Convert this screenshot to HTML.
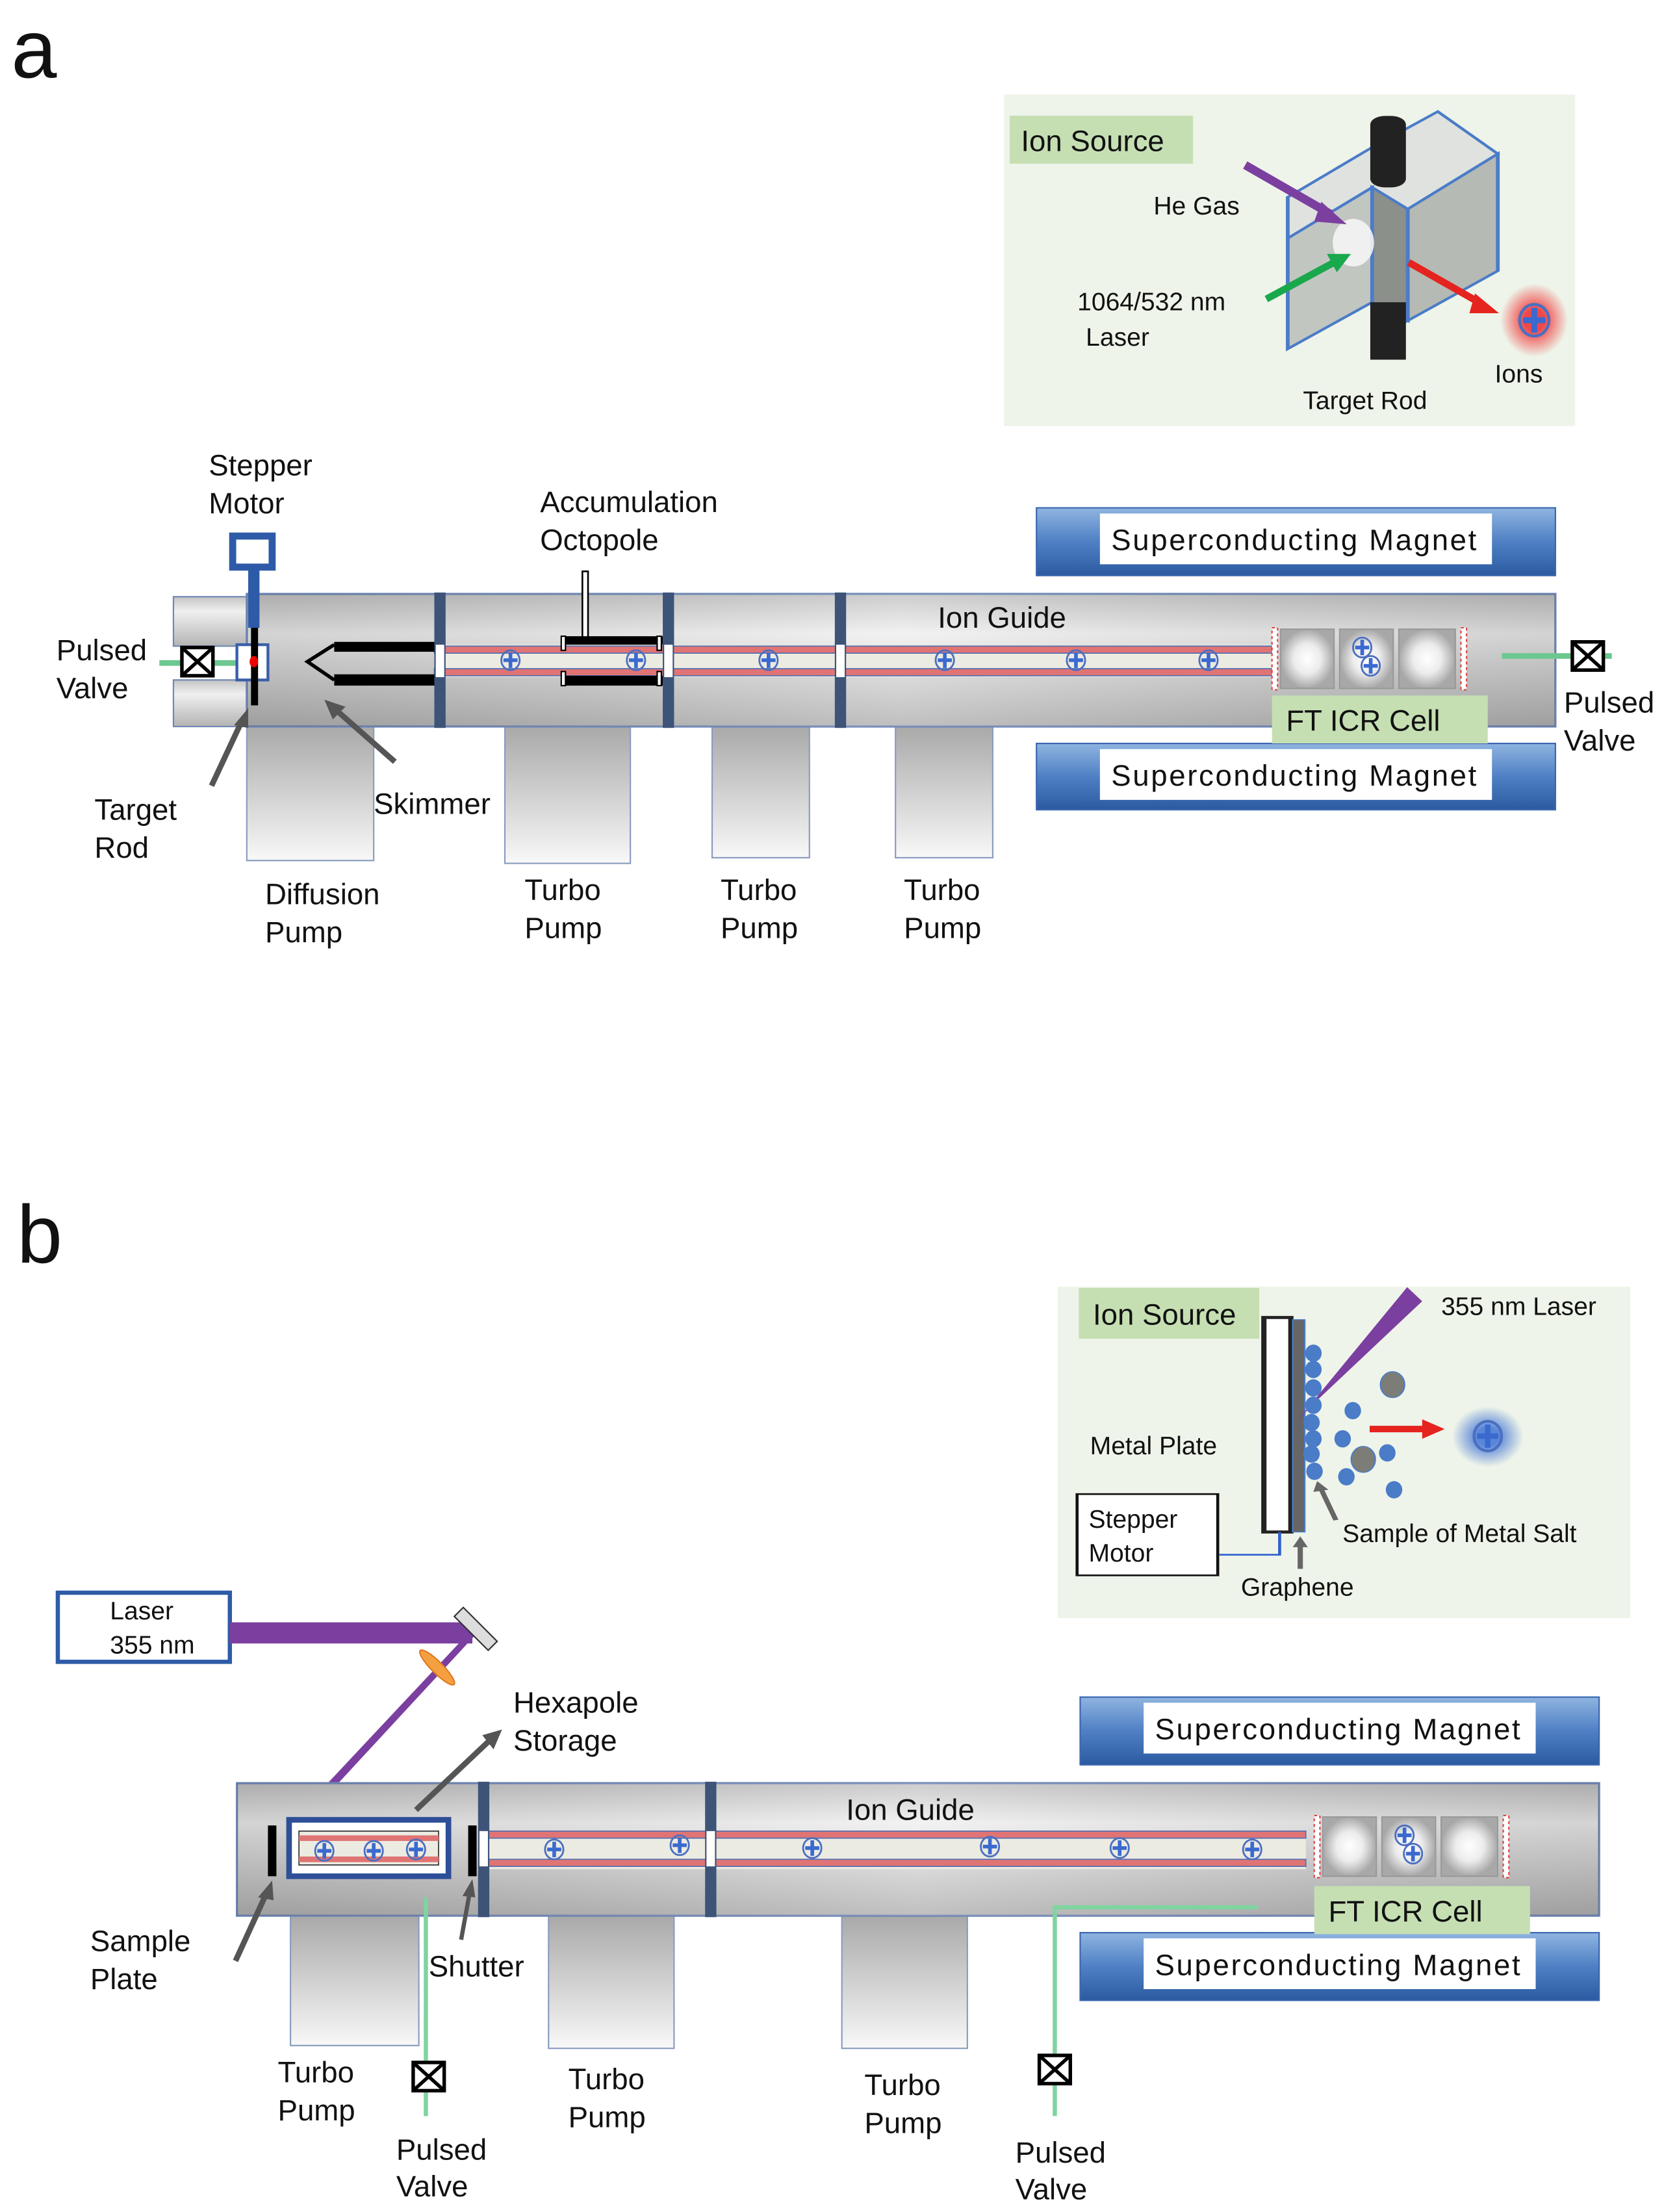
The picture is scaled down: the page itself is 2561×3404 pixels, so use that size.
<!DOCTYPE html>
<html><head><meta charset="utf-8"><style>
html,body{margin:0;padding:0;background:#fff}
svg{display:block}
text{font-family:"Liberation Sans",sans-serif;fill:#111}
</style></head><body>
<svg width="2561" height="3404" viewBox="0 0 1180 1568" preserveAspectRatio="none" xmlns="http://www.w3.org/2000/svg">
<defs>
<linearGradient id="ch" x1="0" y1="0" x2="0" y2="1"><stop offset="0" stop-color="#c4c4c4"/><stop offset="0.3" stop-color="#f0f0f0"/><stop offset="1" stop-color="#b4b4b4"/></linearGradient>
<linearGradient id="chh" x1="0" y1="0" x2="1" y2="0"><stop offset="0" stop-color="#000" stop-opacity="0.12"/><stop offset="0.5" stop-color="#fff" stop-opacity="0.15"/><stop offset="1" stop-color="#000" stop-opacity="0.12"/></linearGradient>
<linearGradient id="pm" x1="0" y1="0" x2="0" y2="1"><stop offset="0" stop-color="#a9a9a9"/><stop offset="1" stop-color="#f8f8f8"/></linearGradient>
<linearGradient id="mg" x1="0" y1="0" x2="0" y2="1"><stop offset="0" stop-color="#8fb4e0"/><stop offset="0.5" stop-color="#4f80c4"/><stop offset="1" stop-color="#2b5aa0"/></linearGradient>
<radialGradient id="cell"><stop offset="0" stop-color="#fff"/><stop offset="0.5" stop-color="#ececec"/><stop offset="1" stop-color="#a8a8a8"/></radialGradient>
<radialGradient id="rglow"><stop offset="0.3" stop-color="#f04848"/><stop offset="1" stop-color="#f04848" stop-opacity="0"/></radialGradient>
<radialGradient id="bglow"><stop offset="0.3" stop-color="#5a86d8"/><stop offset="1" stop-color="#5a86d8" stop-opacity="0"/></radialGradient>
<g id="ion"><ellipse cx="0" cy="0" rx="6.5" ry="7" fill="none" stroke="#4b6fc0" stroke-width="1.3"/><path d="M-5 0H5M0-5.5V5.5" stroke="#3a6ad0" stroke-width="2.6"/></g>
<g id="valve"><rect x="0" y="0" width="22" height="20" fill="#fff" stroke="#000" stroke-width="2.5"/><path d="M1 1L21 19M21 1L1 19" stroke="#000" stroke-width="2.5"/></g>
</defs>

<!-- ================= PANEL A ================= -->
<text x="8" y="55" font-size="58">a</text>

<rect x="712" y="67" width="405" height="235" fill="#eef4e9"/>
<rect x="716" y="82" width="130" height="34" fill="#c5dfb3"/>
<text x="724" y="107" font-size="21">Ion Source</text>
<g transform="translate(709.7,64.5) scale(0.266,0.1536)">
<polygon points="765,490 985,265 1165,95 1325,290 1085,545 990,445 765,680" fill="#dfe2de" stroke="#4a7cc8" stroke-width="10"/>
<polygon points="765,680 990,445 990,975 765,1190" fill="#c2c6c1" stroke="#4a7cc8" stroke-width="10"/>
<polygon points="990,445 1085,545 1085,1060 990,975" fill="#8c908b" stroke="#4a7cc8" stroke-width="10"/>
<polygon points="1085,545 1325,290 1325,830 1085,1060" fill="#b6bab4" stroke="#4a7cc8" stroke-width="10"/>
<rect x="985" y="115" width="95" height="330" rx="40" fill="#222"/>
<rect x="985" y="975" width="95" height="265" fill="#222"/>
<ellipse cx="940" cy="700" rx="55" ry="110" fill="#f4f4f4" opacity="0.9"/>
</g>
<path d="M883 117 L944 152" stroke="#7b3fa0" stroke-width="6"/>
<polygon points="955,159 937,143 932,157" fill="#7b3fa0"/>
<path d="M898 212 L946 186" stroke="#1aa84c" stroke-width="5"/>
<polygon points="958,180 941,180 948,193" fill="#1aa84c"/>
<path d="M999 186 L1050 215" stroke="#e5231f" stroke-width="5"/>
<polygon points="1063,222 1046,208 1042,222" fill="#e5231f"/>
<ellipse cx="1088" cy="227" rx="24" ry="26" fill="url(#rglow)"/>
<use href="#ion" x="1088" y="227" transform="translate(1088,227) scale(1.6) translate(-1088,-227)"/>
<text x="818" y="152" font-size="18">He Gas</text>
<text x="764" y="220" font-size="18">1064/532 nm</text>
<text x="770" y="245" font-size="18">Laser</text>
<text x="1060" y="271" font-size="18">Ions</text>
<text x="924" y="290" font-size="18">Target Rod</text>

<rect x="735" y="360" width="368" height="48" fill="url(#mg)" stroke="#3a66b0"/>
<rect x="780" y="364" width="278" height="36" fill="#fff"/>
<text x="788" y="390" font-size="21" textLength="259">Superconducting Magnet</text>
<rect x="735" y="527" width="368" height="47" fill="url(#mg)" stroke="#3a66b0"/>
<rect x="780" y="531" width="278" height="36" fill="#fff"/>
<text x="788" y="557" font-size="21" textLength="259">Superconducting Magnet</text>

<rect x="175" y="515" width="90" height="95" fill="url(#pm)" stroke="#8a9cc0"/>
<rect x="358" y="515" width="89" height="97" fill="url(#pm)" stroke="#8a9cc0"/>
<rect x="505" y="515" width="69" height="93" fill="url(#pm)" stroke="#8a9cc0"/>
<rect x="635" y="515" width="69" height="93" fill="url(#pm)" stroke="#8a9cc0"/>

<rect x="123" y="423" width="54" height="35" fill="url(#ch)" stroke="#6f87b5"/>
<rect x="123" y="482" width="54" height="33" fill="url(#ch)" stroke="#6f87b5"/>
<rect x="175" y="421" width="928" height="94" fill="url(#ch)" stroke="#6f87b5" stroke-width="1.5"/>
<rect x="175" y="421" width="928" height="94" fill="url(#chh)"/>
<rect x="308" y="457" width="594" height="23" fill="#ecebe2"/>
<rect x="308" y="458" width="594" height="5" fill="#e07474" stroke="#5570b0" stroke-width="0.8"/>
<rect x="308" y="474" width="594" height="5" fill="#e07474" stroke="#5570b0" stroke-width="0.8"/>
<rect x="308" y="420" width="8" height="96" fill="#3d5478"/>
<rect x="470" y="420" width="8" height="96" fill="#3d5478"/>
<rect x="592" y="420" width="8" height="96" fill="#3d5478"/>
<rect x="309" y="457" width="6" height="23" fill="#fff"/>
<rect x="471" y="457" width="6" height="23" fill="#fff"/>
<rect x="593" y="457" width="6" height="23" fill="#fff"/>
<rect x="237" y="455" width="71" height="7" fill="#000"/>
<rect x="237" y="478" width="71" height="8" fill="#000"/>
<path d="M237 457 L218 469 L237 482" fill="none" stroke="#000" stroke-width="2.5"/>
<rect x="413" y="405" width="4" height="48" fill="#fff" stroke="#000" stroke-width="1.2"/>
<rect x="398" y="451" width="72" height="6" fill="#000"/>
<rect x="398" y="479" width="72" height="7" fill="#000"/>
<rect x="398" y="451" width="3" height="10" fill="#fff" stroke="#000"/>
<rect x="466" y="451" width="3" height="10" fill="#fff" stroke="#000"/>
<rect x="398" y="476" width="3" height="10" fill="#fff" stroke="#000"/>
<rect x="466" y="476" width="3" height="10" fill="#fff" stroke="#000"/>
<use href="#ion" x="362" y="468"/><use href="#ion" x="451" y="468"/><use href="#ion" x="545" y="468"/>
<use href="#ion" x="670" y="468"/><use href="#ion" x="763" y="468"/><use href="#ion" x="857" y="468"/>
<rect x="902" y="445" width="4" height="44" fill="#fff" stroke="#e04040" stroke-dasharray="2 2"/>
<rect x="1036" y="445" width="4" height="44" fill="#fff" stroke="#e04040" stroke-dasharray="2 2"/>
<rect x="908" y="446" width="38" height="42" fill="url(#cell)" stroke="#999"/>
<rect x="950" y="446" width="38" height="42" fill="url(#cell)" stroke="#999"/>
<rect x="992" y="446" width="40" height="42" fill="url(#cell)" stroke="#999"/>
<use href="#ion" x="966" y="459"/><use href="#ion" x="972" y="472"/>
<rect x="902" y="493" width="153" height="34" fill="#c5dfb3"/>
<text x="912" y="518" font-size="21">FT ICR Cell</text>
<path d="M113 470 H170" stroke="#6cc890" stroke-width="4"/>
<use href="#valve" x="129" y="459"/>
<rect x="168" y="457" width="22" height="25" fill="#fff" stroke="#3a5fa8" stroke-width="2"/>
<rect x="165" y="380" width="28" height="22" fill="#fff" stroke="#2e5ba8" stroke-width="5"/>
<rect x="176" y="402" width="8" height="43" fill="#2e5ba8"/>
<rect x="178" y="445" width="5" height="55" fill="#000"/>
<ellipse cx="180" cy="469" rx="3" ry="4" fill="#e00"/>
<path d="M1065 465 H1143" stroke="#6cc890" stroke-width="4"/>
<use href="#valve" x="1115" y="455"/>
<path d="M150 557 L172 510" stroke="#555" stroke-width="4"/>
<polygon points="176,502 166,514 176,516" fill="#555"/>
<path d="M280 540 L238 503" stroke="#555" stroke-width="4"/>
<polygon points="230,496 236,510 245,501" fill="#555"/>
<text x="148" y="337" font-size="21">Stepper</text>
<text x="148" y="364" font-size="21">Motor</text>
<text x="383" y="363" font-size="21">Accumulation</text>
<text x="383" y="390" font-size="21">Octopole</text>
<text x="665" y="445" font-size="21">Ion Guide</text>
<text x="40" y="468" font-size="21">Pulsed</text>
<text x="40" y="495" font-size="21">Valve</text>
<text x="1109" y="505" font-size="21">Pulsed</text>
<text x="1109" y="532" font-size="21">Valve</text>
<text x="67" y="581" font-size="21">Target</text>
<text x="67" y="608" font-size="21">Rod</text>
<text x="265" y="577" font-size="21">Skimmer</text>
<text x="188" y="641" font-size="21">Diffusion</text>
<text x="188" y="668" font-size="21">Pump</text>
<text x="372" y="638" font-size="21">Turbo</text>
<text x="372" y="665" font-size="21">Pump</text>
<text x="511" y="638" font-size="21">Turbo</text>
<text x="511" y="665" font-size="21">Pump</text>
<text x="641" y="638" font-size="21">Turbo</text>
<text x="641" y="665" font-size="21">Pump</text>

<!-- ================= PANEL B ================= -->
<text x="12" y="895" font-size="58">b</text>

<rect x="750" y="912" width="406" height="235" fill="#eef4e9"/>
<rect x="765" y="913" width="128" height="36" fill="#c5dfb3"/>
<text x="775" y="939" font-size="21">Ion Source</text>
<g transform="translate(746.5,907.8) scale(0.266,0.1536)">
<rect x="563" y="170" width="72" height="990" fill="#fff" stroke="#222" stroke-width="14"/>
<rect x="640" y="180" width="32" height="980" fill="#666" stroke="#4a7cc8" stroke-width="4"/>
<polygon points="945,30 985,95 700,560 650,650" fill="#7b3fa0"/>
<g fill="#4a7cc8">
<ellipse cx="695" cy="335" rx="22" ry="40"/><ellipse cx="695" cy="410" rx="22" ry="40"/><ellipse cx="695" cy="495" rx="22" ry="40"/>
<ellipse cx="695" cy="575" rx="22" ry="40"/><ellipse cx="690" cy="655" rx="22" ry="40"/><ellipse cx="695" cy="730" rx="22" ry="40"/>
<ellipse cx="690" cy="800" rx="22" ry="40"/><ellipse cx="698" cy="880" rx="22" ry="40"/>
<ellipse cx="800" cy="600" rx="22" ry="40"/><ellipse cx="773" cy="730" rx="22" ry="40"/><ellipse cx="892" cy="795" rx="22" ry="40"/>
<ellipse cx="783" cy="905" rx="22" ry="40"/><ellipse cx="910" cy="965" rx="22" ry="40"/>
</g>
<ellipse cx="906" cy="480" rx="32" ry="60" fill="#7d7d78" stroke="#4a7cc8" stroke-width="4"/>
<ellipse cx="828" cy="825" rx="32" ry="60" fill="#7d7d78" stroke="#4a7cc8" stroke-width="4"/>
<path d="M845 685 H990" stroke="#e5231f" stroke-width="30"/>
<polygon points="985,640 1045,685 985,730" fill="#e5231f"/>
<ellipse cx="1160" cy="720" rx="95" ry="140" fill="url(#bglow)"/>
<rect x="65" y="985" width="375" height="375" fill="#fff" stroke="#111" stroke-width="8"/>
<path d="M443 1265 H605 V1160" fill="none" stroke="#2e5fd0" stroke-width="8"/>
<path d="M660 1330 V1220" stroke="#666" stroke-width="14"/>
<polygon points="640,1230 660,1180 680,1230" fill="#666"/>
<path d="M755 1105 L715 960" stroke="#666" stroke-width="14"/>
<polygon points="695,975 705,925 735,965" fill="#666"/>
</g>
<use href="#ion" x="1055" y="1018" transform="translate(1055,1018) scale(1.5) translate(-1055,-1018)"/>
<text x="1022" y="932" font-size="18">355 nm Laser</text>
<text x="773" y="1031" font-size="18">Metal Plate</text>
<text x="772" y="1083" font-size="18">Stepper</text>
<text x="772" y="1107" font-size="18">Motor</text>
<text x="952" y="1093" font-size="18">Sample of Metal Salt</text>
<text x="880" y="1131" font-size="18">Graphene</text>

<rect x="41" y="1129" width="122" height="49" fill="#fff" stroke="#2e5ba8" stroke-width="3"/>
<text x="78" y="1148" font-size="18">Laser</text>
<text x="78" y="1172" font-size="18">355 nm</text>
<rect x="163" y="1150" width="172" height="15" fill="#7b3fa0"/>
<polygon points="330,1160 338,1158 214,1292 208,1290" fill="#7b3fa0"/>
<rect x="320" y="1150" width="34" height="9" fill="#ddd" stroke="#333" transform="rotate(45 337 1155)"/>
<ellipse cx="310" cy="1182" rx="4" ry="17" fill="#f5a040" stroke="#e07a20" transform="rotate(-45 310 1182)"/>

<rect x="766" y="1203" width="368" height="48" fill="url(#mg)" stroke="#3a66b0"/>
<rect x="811" y="1207" width="278" height="36" fill="#fff"/>
<text x="819" y="1233" font-size="21" textLength="259">Superconducting Magnet</text>
<rect x="766" y="1370" width="368" height="48" fill="url(#mg)" stroke="#3a66b0"/>
<rect x="811" y="1374" width="278" height="36" fill="#fff"/>
<text x="819" y="1400" font-size="21" textLength="259">Superconducting Magnet</text>

<rect x="206" y="1358" width="91" height="92" fill="url(#pm)" stroke="#8a9cc0"/>
<rect x="389" y="1358" width="89" height="94" fill="url(#pm)" stroke="#8a9cc0"/>
<rect x="597" y="1358" width="89" height="94" fill="url(#pm)" stroke="#8a9cc0"/>

<rect x="168" y="1264" width="966" height="94" fill="url(#ch)" stroke="#6f87b5" stroke-width="1.5"/>
<rect x="168" y="1264" width="966" height="94" fill="url(#chh)"/>
<rect x="341" y="1298" width="585" height="27" fill="#ecebe2"/>
<rect x="341" y="1298" width="585" height="5" fill="#e07474" stroke="#5570b0" stroke-width="0.8"/>
<rect x="341" y="1318" width="585" height="5" fill="#e07474" stroke="#5570b0" stroke-width="0.8"/>
<rect x="339" y="1263" width="8" height="96" fill="#3d5478"/>
<rect x="500" y="1263" width="8" height="96" fill="#3d5478"/>
<rect x="340" y="1298" width="6" height="25" fill="#fff"/>
<rect x="501" y="1298" width="6" height="25" fill="#fff"/>
<rect x="205" y="1290" width="113" height="40" fill="#fff" stroke="#2e4f98" stroke-width="4"/>
<rect x="212" y="1298" width="99" height="24" fill="#ecebe2" stroke="#333" stroke-width="0.8"/>
<rect x="212" y="1301" width="99" height="4" fill="#e07474"/>
<rect x="212" y="1316" width="99" height="4" fill="#e07474"/>
<use href="#ion" x="230" y="1312"/><use href="#ion" x="265" y="1312"/><use href="#ion" x="295" y="1311"/>
<rect x="190" y="1294" width="6" height="36" fill="#000"/>
<rect x="332" y="1294" width="6" height="36" fill="#000"/>
<use href="#ion" x="393" y="1311"/><use href="#ion" x="482" y="1308"/><use href="#ion" x="576" y="1310"/>
<use href="#ion" x="702" y="1309"/><use href="#ion" x="794" y="1310"/><use href="#ion" x="888" y="1311"/>
<rect x="932" y="1287" width="4" height="44" fill="#fff" stroke="#e04040" stroke-dasharray="2 2"/>
<rect x="1066" y="1287" width="4" height="44" fill="#fff" stroke="#e04040" stroke-dasharray="2 2"/>
<rect x="938" y="1288" width="38" height="42" fill="url(#cell)" stroke="#999"/>
<rect x="980" y="1288" width="38" height="42" fill="url(#cell)" stroke="#999"/>
<rect x="1022" y="1288" width="40" height="42" fill="url(#cell)" stroke="#999"/>
<use href="#ion" x="996" y="1301"/><use href="#ion" x="1002" y="1314"/>
<rect x="932" y="1337" width="153" height="34" fill="#c5dfb3"/>
<text x="942" y="1362" font-size="21">FT ICR Cell</text>
<path d="M302 1345 V1500" stroke="#7fd4a0" stroke-width="3"/>
<use href="#valve" x="293" y="1462"/>
<path d="M892 1352 H748 V1500" fill="none" stroke="#7fd4a0" stroke-width="3"/>
<use href="#valve" x="737" y="1457"/>
<path d="M295 1283 L348 1233" stroke="#555" stroke-width="4"/>
<polygon points="356,1226 342,1230 350,1240" fill="#555"/>
<path d="M167 1390 L189 1342" stroke="#555" stroke-width="4"/>
<polygon points="193,1333 183,1345 194,1347" fill="#555"/>
<path d="M327 1375 L333 1342" stroke="#555" stroke-width="3"/>
<polygon points="335,1332 328,1344 337,1345" fill="#555"/>
<text x="364" y="1214" font-size="21">Hexapole</text>
<text x="364" y="1241" font-size="21">Storage</text>
<text x="600" y="1290" font-size="21">Ion Guide</text>
<text x="64" y="1383" font-size="21">Sample</text>
<text x="64" y="1410" font-size="21">Plate</text>
<text x="304" y="1401" font-size="21">Shutter</text>
<text x="197" y="1476" font-size="21">Turbo</text>
<text x="197" y="1503" font-size="21">Pump</text>
<text x="403" y="1481" font-size="21">Turbo</text>
<text x="403" y="1508" font-size="21">Pump</text>
<text x="613" y="1485" font-size="21">Turbo</text>
<text x="613" y="1512" font-size="21">Pump</text>
<text x="281" y="1531" font-size="21">Pulsed</text>
<text x="281" y="1557" font-size="21">Valve</text>
<text x="720" y="1533" font-size="21">Pulsed</text>
<text x="720" y="1559" font-size="21">Valve</text>
</svg>
</body></html>
